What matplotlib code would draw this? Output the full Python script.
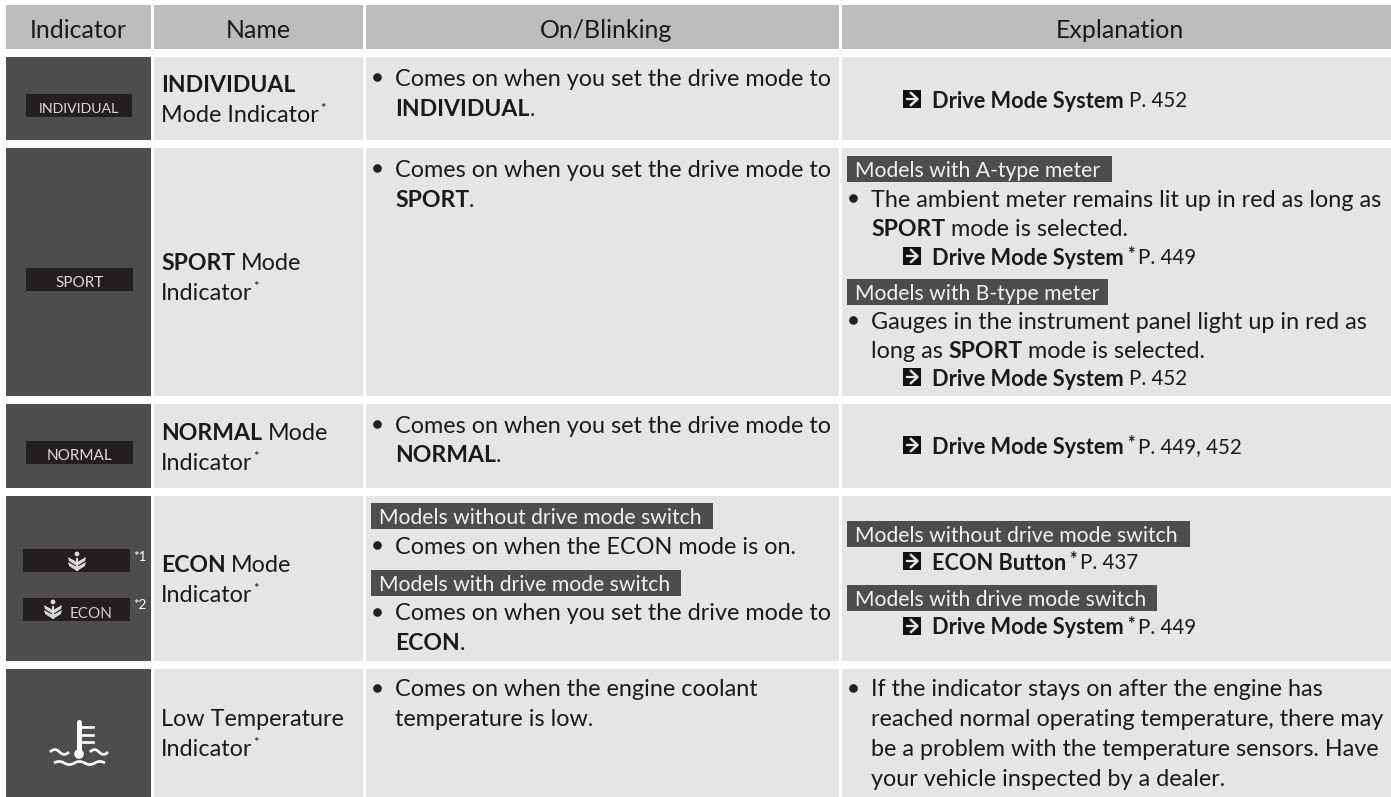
import matplotlib
matplotlib.use("Agg")
import matplotlib.pyplot as plt
from matplotlib.patches import Rectangle, Polygon, PathPatch, Circle
from matplotlib.path import Path

W, H = 1391, 797
FONT = "Lato"
FS = 16.8
BOLD_FS = 16.6
LINK_FS = 14.8
LINK_BOLD_FS = 15.7
DARK = "#4d4d4d"
LIGHT = "#e5e5e5"
HEAD = "#bdbdbd"
BLACK = "#231f20"
INK = "#1a1a1a"

# table structure, pixels
headers = ["Indicator", "Name", "On/Blinking", "Explanation"]
header_x = [78, 258, 606, 1120]
col_edges = [(6, 151), (154, 363), (366, 839), (842, 1391)]
row_edges = [(57, 140), (148, 396), (404, 488), (496, 661), (669, 797)]

# lines of text: (x, y, runs), a run is (text, style)
# styles: r regular, b bold, s small star, t bold star
name_lines = [
    (161, 83, [("INDIVIDUAL", "b")]),
    (161, 113, [("Mode Indicator", "r"), ("*", "s")]),
    (161, 262, [("SPORT", "b"), ("Mode", "r")]),
    (161, 291, [("Indicator", "r"), ("*", "s")]),
    (161, 431, [("NORMAL", "b"), ("Mode", "r")]),
    (161, 461, [("Indicator", "r"), ("*", "s")]),
    (161, 564, [("ECON", "b"), ("Mode", "r")]),
    (161, 593, [("Indicator", "r"), ("*", "s")]),
    (161, 718, [("Low Temperature", "r")]),
    (161, 747, [("Indicator", "r"), ("*", "s")]),
]
blink_lines = [
    (395, 77, [("Comes on when you set the drive mode to", "r")]),
    (395, 107, [("INDIVIDUAL", "b"), (".", "r")]),
    (395, 168, [("Comes on when you set the drive mode to", "r")]),
    (395, 198, [("SPORT", "b"), (".", "r")]),
    (395, 424, [("Comes on when you set the drive mode to", "r")]),
    (395, 453, [("NORMAL", "b"), (".", "r")]),
    (395, 545, [("Comes on when the ECON mode is on.", "r")]),
    (395, 612, [("Comes on when you set the drive mode to", "r")]),
    (395, 641, [("ECON", "b"), (".", "r")]),
    (395, 688, [("Comes on when the engine coolant", "r")]),
    (395, 718, [("temperature is low.", "r")]),
]
expl_lines = [
    (871, 198, [("The ambient meter remains lit up in red as long as", "r")]),
    (871, 227, [("SPORT", "b"), ("mode is selected.", "r")]),
    (871, 320, [("Gauges in the instrument panel light up in red as", "r")]),
    (871, 349, [("long as", "r"), ("SPORT", "b"), ("mode is selected.", "r")]),
    (871, 688, [("If the indicator stays on after the engine has", "r")]),
    (871, 718, [("reached normal operating temperature, there may", "r")]),
    (871, 748, [("be a problem with the temperature sensors. Have", "r")]),
    (871, 777, [("your vehicle inspected by a dealer.", "r")]),
]
link_lines = [
    (99, [("Drive Mode System", "b"), ("P. 452", "r")]),
    (256, [("Drive Mode System", "b"), ("*", "t"), ("P. 449", "r")]),
    (377, [("Drive Mode System", "b"), ("P. 452", "r")]),
    (445, [("Drive Mode System", "b"), ("*", "t"), ("P. 449, 452", "r")]),
    (561, [("ECON Button", "b"), ("*", "t"), ("P. 437", "r")]),
    (626, [("Drive Mode System", "b"), ("*", "t"), ("P. 449", "r")]),
]
bullets = [
    (377, 77), (377, 168), (377, 424), (377, 545), (377, 612), (377, 688),
    (853, 198), (853, 320), (853, 688),
]
# banners: (x0, y0, x1, y1, text)
banners = [
    (847, 156, 1112, 182, "Models with A-type meter"),
    (847, 279, 1108, 305, "Models with B-type meter"),
    (371, 503, 713, 529, "Models without drive mode switch"),
    (371, 570, 681, 596, "Models with drive mode switch"),
    (847, 521, 1190, 547, "Models without drive mode switch"),
    (847, 585, 1157, 611, "Models with drive mode switch"),
]
# black meter plates: (x0, y0, x1, y1, label, label size)
plates = [
    (26, 94, 132, 117, "INDIVIDUAL", 10.2),
    (26, 268, 133, 291, "SPORT", 11),
    (26, 441, 133, 464, "NORMAL", 11),
    (23, 549, 130, 572, "", 11),
    (23, 598, 130, 621, "", 11),
]

fig = plt.figure(figsize=(W / 100, H / 100), dpi=100)
ax = fig.add_axes([0, 0, 1, 1])
ax.set_xlim(0, W)
ax.set_ylim(H, 0)
ax.axis("off")
renderer = fig.canvas.get_renderer()


def box(x0, y0, x1, y1, color):
    ax.add_patch(Rectangle((x0, y0), x1 - x0, y1 - y0, fc=color, ec="none"))


def txt(x, y, s, bold=False, size=FS, color=INK, ha="left"):
    return ax.text(x, y, s, family=FONT, fontsize=size, color=color, ha=ha,
                   va="center_baseline", fontweight="bold" if bold else "normal")


def runs(x, y, parts, size=FS, bold_size=BOLD_FS):
    prev = None
    for s, style in parts:
        if style == "s":
            t = txt(x + 1, y - 5, s, size=9.5)
        elif style == "t":
            t = txt(x + 3, y - 3, s, bold=True, size=13)
        else:
            if prev is not None and s != ".":
                x += 2 if prev in "st" else 5.5
            t = txt(x, y, s, bold=style == "b", size=bold_size if style == "b" else size)
        x = t.get_window_extent(renderer).x1 if style in "rb" else x + 12
        prev = style


def link_arrow(x, y):
    box(x, y - 9, x + 18, y + 9, "#111111")
    ax.plot([x + 2.5, x + 14], [y, y], color=LIGHT, lw=1.6, solid_capstyle="butt")
    ax.plot([x + 8, x + 14.5, x + 8], [y - 6, y, y + 6], color=LIGHT, lw=1.8)


def plant(x, y, color="#d9d9d9"):
    ax.add_patch(Circle((x, y - 7), 2.4, fc=color, ec="none"))
    ax.plot([x, x], [y - 2, y + 9], color=color, lw=1.5)
    for dy in (-2, 3):
        ax.add_patch(Polygon([(x - 9, y + dy - 2), (x, y + dy + 3), (x + 9, y + dy - 2),
                              (x + 8, y + dy + 2), (x, y + dy + 7), (x - 8, y + dy + 2)],
                             fc=color, ec="none"))


def wave(x0, x1, y, n, amp=2.5, lw=1.9):
    step = (x1 - x0) / n
    verts = [(x0, y)]
    codes = [Path.MOVETO]
    for i in range(n):
        sign = -1 if i % 2 == 0 else 1
        verts += [(x0 + (i + 0.5) * step, y + sign * amp * 2), (x0 + (i + 1) * step, y)]
        codes += [Path.CURVE3, Path.CURVE3]
    ax.add_patch(PathPatch(Path(verts, codes), fc="none", ec="white", lw=lw))


for (x0, x1), h, hx in zip(col_edges, headers, header_x):
    box(x0, 5, x1, 49, HEAD)
    txt(hx, 28, h, ha="center", size=18)
for y0, y1 in row_edges:
    box(col_edges[0][0], y0, col_edges[0][1], y1, DARK)
    for x0, x1 in col_edges[1:]:
        box(x0, y0, x1, y1, LIGHT)

for x0, y0, x1, y1, label, size in plates:
    box(x0, y0, x1, y1, BLACK)
    if label:
        txt((x0 + x1) / 2, (y0 + y1) / 2 + 2, label, size=size, color="#dcdcdc", ha="center")
plant(77, 561)
plant(53, 609)
txt(70, 612, "ECON", size=11, color="#cfcfcf")
txt(133, 556, "*1", size=9.5, color="white")
txt(133, 604, "*2", size=9.5, color="white")

# thermometer lamp
ax.plot([79, 79], [722, 752], color="white", lw=3.6, solid_capstyle="round")
ax.add_patch(Circle((79, 754), 4.8, fc="white", ec="none"))
for ty in (727, 734.5, 742):
    ax.plot([79, 93], [ty, ty], color="white", lw=1.9)
wave(50, 69, 752, 2)
wave(90, 108, 752, 2)
wave(54, 105, 763, 5, amp=1.6)

for x0, y0, x1, y1, s in banners:
    box(x0, y0, x1, y1, DARK)
    txt(x0 + 8, (y0 + y1) / 2, s, size=15.2, color="#f2f2f2")

for x, y, parts in name_lines + blink_lines + expl_lines:
    runs(x, y, parts)
for y, parts in link_lines:
    link_arrow(903, y)
    runs(932, y, parts, size=LINK_FS, bold_size=LINK_BOLD_FS)
for x, y in bullets:
    ax.plot([x], [y], "o", ms=6.2, color=BLACK, mec="none")

fig.savefig("out.png", dpi=100)
